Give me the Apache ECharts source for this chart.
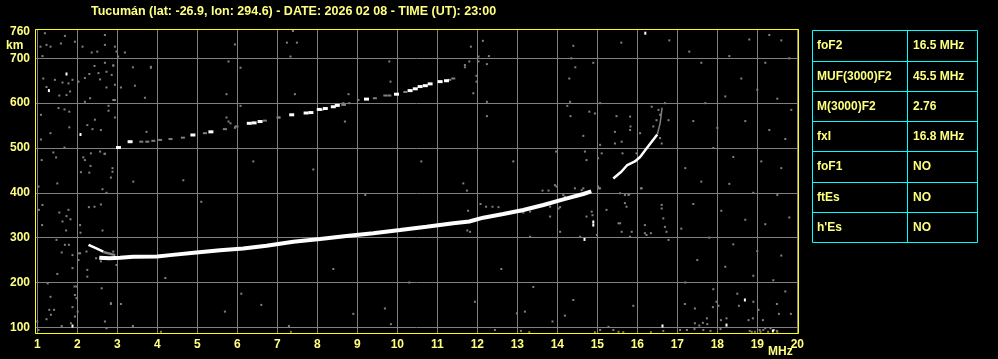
<!DOCTYPE html>
<html>
<head>
<meta charset="utf-8">
<script src="https://cdn.jsdelivr.net/npm/echarts@6/dist/echarts.min.js"></script>
<style>
html,body{margin:0;padding:0;background:#000;}
#c{width:998px;height:359px;}
</style>
</head>
<body>
<div id="c"></div>
<script>
// ---------- data ----------
const titleText = 'Tucumán (lat: -26.9, lon: 294.6) - DATE: 2026 02 08 - TIME (UT): 23:00';
const freqRange = [0.9425, 20.0175];   // MHz
const heightRange = [87.3, 765.4];     // km
const heightTopLabel = 760;

const tableLabels = ['foF2', 'MUF(3000)F2', 'M(3000)F2', 'fxI', 'foF1', 'ftEs', "h'Es"];
const tableValues = ['16.5 MHz', '45.5 MHz', '2.76', '16.8 MHz', 'NO', 'NO', 'NO'];

// main F-layer trace (frequency MHz, virtual height km)
const mainTrace = [[2.55,255],[2.8,254],[3.07,255],[3.4,257.5],[4.0,258],[4.32,261],[4.98,267],[5.57,272],[6.15,276],[6.73,282],[7.4,291],[8.07,297],[8.73,303.6],[9.4,309.7],[10.07,317],[10.73,324.4],[11.4,332],[11.8,336],[12.15,344.5],[12.65,352.7],[13.15,361.7],[13.65,372.8],[14.15,385.5],[14.65,397.3],[14.85,403]];
const hookTrace = [[2.28,284],[2.45,277],[2.65,269]];
const hookGray = [[2.65,268],[2.95,261]];
const upperTrace = [[15.4,432],[15.6,447],[15.75,462],[15.94,470],[16.07,480],[16.23,499],[16.36,514],[16.5,530]];
const upperGray = [[16.5,530],[16.57,555],[16.62,590]];
// second hop trace
const secondHopWhite = [[3.03,501],[3.32,514],[4.89,529],[5.34,536],[6.3,555],[6.42,556],[6.57,559],[7.36,574],[7.72,578],[7.84,579],[8.05,586],[8.2,588],[8.4,592],[8.5,595],[9.23,609],[9.98,620],[10.32,628],[10.45,632],[10.57,637],[10.7,639],[10.82,643],[11.07,648],[11.23,650]];
const secondHopGray = [[3.6,514],[3.75,514],[3.9,516],[4.07,518],[4.33,520],[4.64,523],[5.19,533],[5.69,542],[5.98,548],[6.69,561],[7.03,568],[8.11,585],[8.65,596],[9.44,611],[9.7,617],[9.8,617],[10.2,625],[11.3,652],[11.4,655]];
// scattered noise echoes
const noiseGray = [
[1.19,756],[1.69,750],[1.08,726],[1.23,730],[1.33,726],[1.59,733],[1.94,737],[2.13,726],[2.36,713],[2.50,715],[2.69,752],[2.69,730],[2.94,726],[2.98,715],[3.19,713],[1.13,705],[3.02,704],[2.43,683],[2.69,690],[2.90,684],[1.63,646],[1.78,644],[1.44,652],[1.15,655],[1.23,636],[1.88,652],[1.55,617],[1.73,618],[1.82,626],[2.03,648],[2.19,656],[2.30,665],[2.53,667],[2.57,653],[2.73,670],[2.86,663],[2.94,641],[2.90,607],[2.19,603],[2.32,611],[1.09,574],[1.53,589],[1.68,586],[1.80,581],[1.80,546],[2.38,542],[2.44,563],[2.25,551],[2.59,540],[1.33,533],[1.09,519],[1.68,501],[1.40,490],[1.47,479],[2.15,479],[2.34,488],[2.57,492],[2.68,487],[2.88,455],[2.88,447],[2.19,473],[2.33,460],[2.30,445],[2.09,446],[2.84,434],[1.11,473],[1.50,421],[1.03,414],[2.73,400],[2.63,408],[2.29,368],[2.43,369],[2.59,374],[1.78,362],[1.73,348],[1.83,341],[1.55,356],[1.63,336],[1.12,328],[1.13,373],[1.04,362],[2.07,328],[2.08,311],[2.63,316],[1.72,316],[1.48,295],[1.69,284],[1.61,267],[1.79,284],[1.88,261],[2.23,269],[2.03,250],[2.47,254],[2.59,247],[2.90,269],[2.98,239],[1.88,232],[2.03,265],[2.07,265],[2.25,228],[2.25,213],[1.50,219],[1.26,198],[1.93,191],[2.61,187],[2.84,154],[1.33,168],[1.34,128],[1.30,139],[1.42,139],[1.23,118],[1.88,145],[1.94,124],[1.61,103],[1.84,109],[2.01,135],[1.98,165],[1.98,191],[1.94,172],[1.0,113],[1.03,94],[2.73,98],[2.69,113],
[5.94,731],[7.39,761],[7.24,735],[7.49,735],[7.33,704],[11.84,726],[12.14,739],[12.03,704],[12.29,705],
[2.84,152],[3.09,152],[3.39,103],[4.09,90],[5.69,135],[7.29,103],[7.34,90],[9.69,142],[9.84,107],[11.94,157],[12.44,94],
[12.99,131],[13.19,135],[13.09,92],[13.3,89],[13.88,113],[14.19,126],[14.4,161],[14.94,89],[15.07,94],[15.28,101],[15.4,94],[15.53,90],[15.65,89],[15.9,148],[16.34,89],[16.65,92],[17.19,152],[17.07,94],[17.24,94],[17.43,96],[17.65,94],[17.44,142],[17.74,120],[17.75,107],[17.64,110],[17.55,104],[17.44,109],[17.89,145],[17.83,92],[17.98,157],[18.03,148],[18.09,116],[18.23,120],[18.08,96],[18.54,148],[18.9,157],[19.03,139],[18.89,120],[18.78,116],[19.14,116],[19.49,152],[19.54,130],[19.84,130],
[18.81,92],[18.86,90],[18.94,90],[19.06,94],[19.08,90],[19.15,94],[19.2,98],[19.27,90],[19.33,98],[19.42,94],[19.49,92],[19.5,90],
[14.32,603],[14.25,594],[14.33,571],[14.8,581],[14.94,577],[15.07,600],[15.48,571],[15.82,570],[15.83,548],[15.44,536],[15.07,507],[15.11,488],[15.61,514],[15.63,488],[14.65,527],[14.69,492],[14.73,473],[13.97,492],[15.02,477],[16.11,410],[15.78,395],[15.69,395],[13.94,417],[14.44,410],[15.04,410],[14.86,358],[14.88,350],[14.73,347],[15.23,362],[15.73,369],[15.8,397],[15.57,332],[16.23,306],[16.34,310],[16.61,373],[16.65,343],[16.69,324],[16.73,313],[16.61,365],[16.78,295],[16.36,592],[16.53,585],[16.57,574],[16.48,562],[16.69,600],[16.78,562],[16.07,533],[15.98,488],[15.82,540],[16.4,548],[16.57,522],[16.61,510],[15.44,510],[16.19,310],[15.61,313],[15.82,302],
[11.65,421],[11.74,405],[12.08,375],[12.22,369],[12.38,369],[12.53,368],[11.77,360],[11.75,316],[11.82,313],[13.09,358],[13.15,356],[13.32,358],[13.32,302],[13.82,347],[13.98,414],[13.63,405],[13.78,405],[14.15,395],[14.19,391],[14.61,406],[14.65,410],[14.07,313],[14.57,302],[15.02,414],[15.07,410],[15.69,377],[15.57,399],[15.53,332],[15.86,313],[16.09,410],[16.19,328],[14.99,306],[14.03,365],[14.07,368],[13.82,369],
[2.9,684],[3.39,680],[3.84,681],[3.84,679],[2.73,635],[3.09,635],[3.44,639],[3.69,612],[2.94,607],[2.78,594],[2.78,583],[2.94,568],[3.73,536],[5.78,693],[6.08,679],[5.73,620],[6.08,594],[5.73,568],[5.78,559],[5.83,555],[5.94,545],[7.44,620],[8.78,620],[8.69,559],[7.05,568],[2.69,487],
[9.8,693],[11.8,693],[12.03,693],[12.24,687],[11.69,685],[11.69,680],[9.83,648],[11.98,661],[11.98,648],[12.24,603],[12.24,571],[11.9,622],[8.65,600],[8.69,596],[8.8,600],[9.03,607],
[14.4,728],[14.35,700],[14.45,680],[14.3,655],[14.9,690],[15.6,735],[16.8,740],[17.3,715],[17.6,690],[18.3,705],[18.8,742],[19.3,752],[19.6,740],[19.8,700],[19.2,690],[18.6,655],[19.0,630],[19.5,610],[19.85,585],[18.2,615],[17.7,600],[17.4,560],[18.0,545],[18.7,560],[19.3,540],[19.7,520],[17.9,500],[18.4,480],[19.1,470],[19.6,455],[17.2,455],[17.6,425],[18.3,420],[18.9,400],[19.5,395],[17.4,375],[18.1,360],[18.7,340],[19.2,330],[19.8,345],[17.1,320],[17.8,300],[18.4,285],[19.0,270],[19.6,260],[17.5,250],[18.2,235],[18.9,215],[19.4,205],[17.2,200],[17.9,185],[18.5,175],[19.7,180],
[4.65,428],[6.4,470],[7.9,452],[9.2,395],[10.6,470],[12.9,470],[5.1,380],[3.4,425],[4.2,210],[6.1,175],[8.4,230],[10.3,200],[12.6,230],[13.4,190],[8.9,130],[6.6,150]
];
const noiseWhite = [[1.29,628],[1.73,665],[2.08,530],[1.88,103],[16.63,103],[18.23,105],[18.69,161],[19.39,92],[14.9,328],[14.9,335],[14.68,296],[16.2,756]];

// ---------- chart ----------
const YELLOW_TXT = '#ffff80';
const FONT = 'Liberation Sans, Arial, sans-serif';
const chart = echarts.init(document.getElementById('c'), null, {renderer: 'canvas'});

const rowEdges = [30, 61, 91, 121, 151, 182, 212, 242];
const tbl = [];
tbl.push({type: 'rect', z: 100, shape: {x: 35.5, y: 29.5, width: 763, height: 304}, style: {fill: 'none', stroke: '#ffff00', lineWidth: 1}});
tbl.push({type: 'rect', shape: {x: 812.5, y: 30.5, width: 165, height: 212}, style: {fill: 'none', stroke: '#00ffff', lineWidth: 1}});
tbl.push({type: 'line', shape: {x1: 907.5, y1: 30.5, x2: 907.5, y2: 242.5}, style: {stroke: '#00ffff', lineWidth: 1}});
for (let i = 1; i < rowEdges.length - 1; i++) {
  tbl.push({type: 'line', shape: {x1: 812.5, y1: rowEdges[i] + 0.5, x2: 977.5, y2: rowEdges[i] + 0.5}, style: {stroke: '#00ffff', lineWidth: 1}});
}
tableLabels.forEach((t, i) => {
  const cy = (rowEdges[i] + rowEdges[i + 1]) / 2 + 0.5;
  tbl.push({type: 'text', x: 817, y: cy, style: {text: t, fill: YELLOW_TXT, font: 'bold 12px ' + FONT, textVerticalAlign: 'middle', verticalAlign: 'middle'}});
  tbl.push({type: 'text', x: 913, y: cy, style: {text: tableValues[i], fill: YELLOW_TXT, font: 'bold 12px ' + FONT, textVerticalAlign: 'middle', verticalAlign: 'middle'}});
});
tbl.push({type: 'text', x: 6, y: 45.5, style: {text: 'km', fill: YELLOW_TXT, font: 'bold 12px ' + FONT, verticalAlign: 'middle', textVerticalAlign: 'middle'}});
tbl.push({type: 'text', x: 768, y: 351.5, style: {text: 'MHz', fill: YELLOW_TXT, font: 'bold 12px ' + FONT, verticalAlign: 'middle', textVerticalAlign: 'middle'}});

function lineSeries(data, color, width) {
  return {type: 'line', data: data, showSymbol: false, symbol: 'none', silent: true,
    lineStyle: {color: color, width: width, cap: 'butt'}, z: 3};
}
function dotSeries(data, color, size) {
  return {type: 'scatter', data: data, symbol: 'rect', symbolSize: size, silent: true,
    itemStyle: {color: color, opacity: 1}, z: 2};
}

chart.setOption({
  animation: false,
  backgroundColor: '#000',
  title: {text: titleText, left: 86, top: 0,
    textStyle: {color: YELLOW_TXT, fontSize: 12.5, fontWeight: 'bold', fontFamily: FONT}},
  grid: {left: 35, top: 29, width: 763, height: 304, show: false},
  xAxis: {type: 'value', min: freqRange[0], max: freqRange[1], splitNumber: 19,
    axisLine: {show: false}, axisTick: {show: false},
    splitLine: {show: true, lineStyle: {color: '#808080', width: 1}},
    axisLabel: {color: YELLOW_TXT, fontSize: 12, fontWeight: 'bold', fontFamily: FONT, margin: 6,
      formatter: v => (Math.abs(v - Math.round(v)) < 1e-6 ? String(Math.round(v)) : '')}},
  yAxis: {type: 'value', min: heightRange[0], max: heightRange[1], splitNumber: 7,
    axisLine: {show: false}, axisTick: {show: false},
    splitLine: {show: true, lineStyle: {color: '#808080', width: 1}},
    axisLabel: {color: YELLOW_TXT, fontSize: 12, fontWeight: 'bold', fontFamily: FONT, margin: 5,
      formatter: v => (Math.abs(v % 100) < 1e-6 ? String(Math.round(v)) : (v > heightTopLabel ? '{t|' + heightTopLabel + '}' : '')),
      rich: {t: {color: YELLOW_TXT, fontSize: 12, fontWeight: 'bold', fontFamily: FONT, padding: [5, 0, 0, 0]}}}},
  graphic: tbl,
  series: [
    dotSeries(noiseGray, '#808080', [2, 2]),
    dotSeries(noiseWhite, '#ffffff', [2, 3]),
    dotSeries(secondHopGray, '#808080', [4, 2]),
    dotSeries(secondHopWhite, '#ffffff', [5, 3]),
    lineSeries(hookGray, '#808080', 2.5),
    lineSeries(hookTrace, '#ffffff', 2.5),
    lineSeries(mainTrace, '#ffffff', 4),
    lineSeries(upperTrace, '#ffffff', 2.5),
    lineSeries(upperGray, '#808080', 1.5)
  ]
});
</script>
</body>
</html>
